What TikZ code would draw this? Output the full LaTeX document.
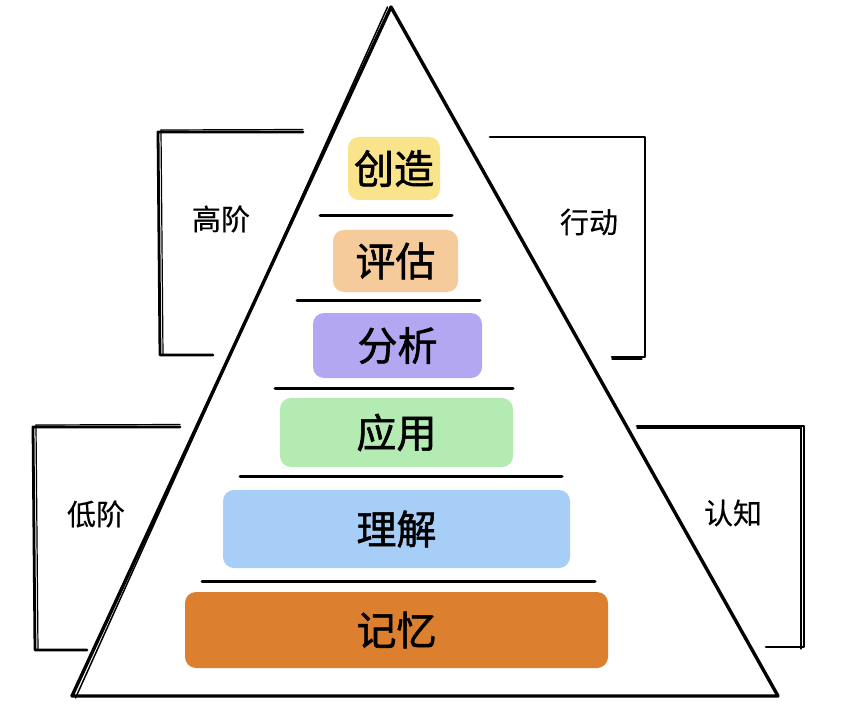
\documentclass[tikz,border=0pt]{standalone}
\usepackage{fontspec}
\setmainfont{Noto Sans CJK SC}
\newfontfamily\cjk[FakeBold=1.4]{Noto Sans CJK SC}
\newfontfamily\cjkside[FakeBold=0.4]{Noto Sans CJK SC}
\begin{document}
\begin{tikzpicture}[x=1pt,y=-1pt,
  lvl/.style={rounded corners=11pt,inner sep=0pt,font=\cjk\fontsize{40}{40}\selectfont},
  sep/.style={line width=3pt,line cap=round},
  brk/.style={line width=2.8pt,line cap=round,line join=round},
  tri/.style={line width=3.4pt,line join=round,line cap=round},
  side/.style={font=\cjkside\fontsize{29}{29}\selectfont,inner sep=0pt}]
\definecolor{cYel}{HTML}{F9E48B}
\definecolor{cOra}{HTML}{F6CB9C}
\definecolor{cPur}{HTML}{B4A7F2}
\definecolor{cGre}{HTML}{B3EBB3}
\definecolor{cBlu}{HTML}{A6CEF6}
\definecolor{cDor}{HTML}{DC7F2E}
\useasboundingbox (0,0) rectangle (846,714);
\fill[white] (0,0) rectangle (846,714);
% triangle
\coordinate (apex) at (391,7);
\coordinate (bl) at (72,696);
\coordinate (br) at (778,696);
\draw[tri] (apex) -- (br) -- (bl) -- cycle;
\draw[line width=1.5pt,line cap=round] ([xshift=-3.5pt]apex) -- ([xshift=3.5pt,yshift=-2pt]bl);
% levels
\node[lvl,fill=cYel,minimum width=92pt,minimum height=63pt] (create) at (394,168.5) {创造};
\node[lvl,fill=cOra,minimum width=125pt,minimum height=62pt] (eval) at (395.5,261) {评估};
\node[lvl,fill=cPur,minimum width=169pt,minimum height=65pt] (anal) at (397.5,345.5) {分析};
\node[lvl,fill=cGre,minimum width=233pt,minimum height=69pt] (apply) at (396.5,432.5) {应用};
\node[lvl,fill=cBlu,minimum width=347pt,minimum height=78pt] (under) at (396.5,529) {理解};
\node[lvl,fill=cDor,minimum width=423pt,minimum height=76pt] (remem) at (396.5,630) {记忆};
% separators
\coordinate (s1a) at (320,216); \coordinate (s1b) at (452,216);
\coordinate (s2a) at (297,300); \coordinate (s2b) at (480,300);
\coordinate (s3a) at (275,388); \coordinate (s3b) at (513,388);
\coordinate (s4a) at (240,476); \coordinate (s4b) at (562,476);
\coordinate (s5a) at (202,581); \coordinate (s5b) at (595,581);
\draw[sep] (s1a) -- (s1b);
\draw[sep] (s2a) -- (s2b);
\draw[sep] (s3a) -- (s3b);
\draw[sep] (s4a) -- (s4b);
\draw[sep] (s5a) -- (s5b);
% brackets
\coordinate (h1) at (303,132); \coordinate (h2) at (158,132); \coordinate (h3) at (160,355); \coordinate (h4) at (213,355);
\coordinate (a1) at (490,137); \coordinate (a2) at (645,137); \coordinate (a3) at (645,357); \coordinate (a4) at (612,357);
\coordinate (l1) at (180,427); \coordinate (l2) at (33,427); \coordinate (l3) at (35,650); \coordinate (l4) at (87,650);
\coordinate (c1) at (637,426); \coordinate (c2) at (804,426); \coordinate (c3) at (804,647); \coordinate (c4) at (766,647);
\draw[brk] (h1) -- (h2) -- (h3) -- (h4);
\draw[brk] (a1) -- (a2) -- (a3) -- (a4);
\draw[brk] (l1) -- (l2) -- (l3) -- (l4);
\draw[brk] (c1) -- (c2) -- (c3) -- (c4);
\draw[line width=1.2pt,line cap=round] ([yshift=2.5pt]h1) -- ([xshift=3pt,yshift=2pt]h2) -- ([xshift=3pt]h3);
\draw[line width=1.2pt,line cap=round] ([yshift=2.5pt]l1) -- ([xshift=3pt,yshift=2pt]l2) -- ([xshift=3pt]l3);
\draw[line width=1.2pt,line cap=round] ([yshift=-2pt]c1) -- ([xshift=-3pt,yshift=-2pt]c2) -- ([xshift=-3pt,yshift=-2pt]c3);
\draw[line width=1.2pt,line cap=round] ([yshift=-2pt]a4) -- ([xshift=-3pt,yshift=-2pt]a3);
% side labels
\node[side] (hi) at (221,219) {高阶};
\node[side] (act) at (589,222) {行动};
\node[side] (lo) at (96,514) {低阶};
\node[side] (cog) at (733,513) {认知};
\end{tikzpicture}
\end{document}
